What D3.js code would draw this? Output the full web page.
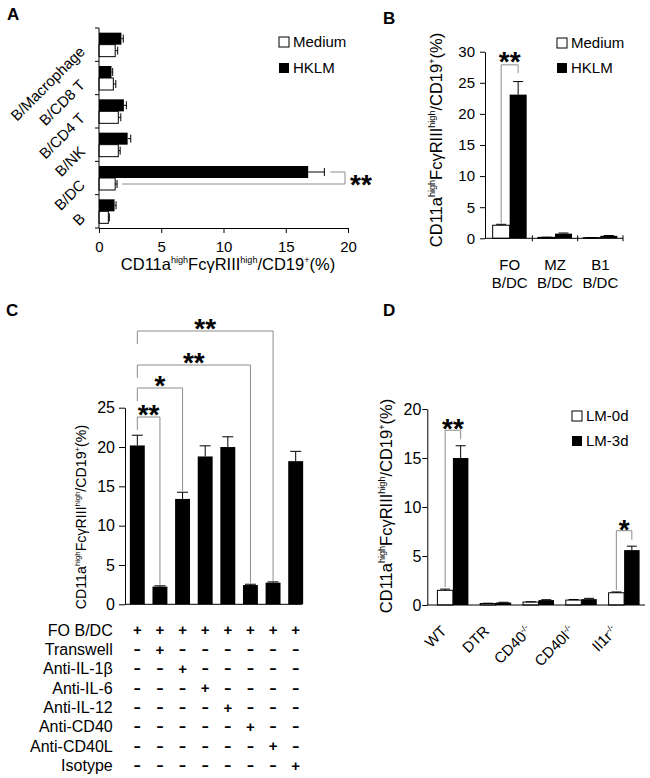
<!DOCTYPE html>
<html>
<head>
<meta charset="utf-8">
<script src="https://cdn.jsdelivr.net/npm/d3@7"></script>
<style>
  body { margin: 0; background: #fff; }
  svg text { font-family: Arial, "Liberation Sans", sans-serif; fill: #000; }
</style>
</head>
<body>
<svg id="fig" width="650" height="778"></svg>
<script>
// ---- panel A ----
const catsA = ['B/Macrophage', 'B/CD8 T', 'B/CD4 T', 'B/NK', 'B/DC', 'B'];
const mediumA = [1.3, 1.15, 1.55, 1.55, 1.3, 0.75];
const mediumErrA = [0.2, 0.2, 0.2, 0.15, 0.15, 0.08];
const hklmA = [1.8, 1.0, 2.0, 2.3, 16.8, 1.25];
const hklmErrA = [0.15, 0.1, 0.2, 0.25, 1.3, 0.12];
const ticksA = [0, 5, 10, 15, 20];

// ---- panel B ----
const catsB = ['FO', 'MZ', 'B1'];
const subB = 'B/DC';
const mediumB = [2.1, 0.15, 0.1];
const mediumErrB = [0.15, 0.03, 0.03];
const hklmB = [23.1, 0.75, 0.4];
const hklmErrB = [2.1, 0.1, 0.05];
const ticksB = [0, 5, 10, 15, 20, 25, 30];

// ---- panel C ----
const valuesC = [20.2, 2.25, 13.4, 18.8, 20.0, 2.45, 2.75, 18.2];
const errC = [1.3, 0.1, 0.85, 1.35, 1.3, 0.1, 0.1, 1.25];
const ticksC = [0, 5, 10, 15, 20, 25];
const rowsC = ['FO B/DC', 'Transwell', 'Anti-IL-1β', 'Anti-IL-6', 'Anti-IL-12', 'Anti-CD40', 'Anti-CD40L', 'Isotype'];
const signsC = ['++++++++', '-+------', '--+-----', '---+----', '----+---', '-----+--', '------+-', '-------+'];
const sigC = [[0, 1, '**'], [0, 2, '*'], [0, 5, '**'], [0, 6, '**']];

// ---- panel D ----
const catsD = ['WT', 'DTR', 'CD40', 'CD40l', 'Il1r'];
const supD = ['', '', '-/-', '-/-', '-/-'];
const lm0d = [1.5, 0.15, 0.3, 0.5, 1.25];
const lm0dErr = [0.12, 0.03, 0.03, 0.06, 0.08];
const lm3d = [15.0, 0.25, 0.5, 0.6, 5.6];
const lm3dErr = [1.25, 0.03, 0.04, 0.08, 0.4];
const ticksD = [0, 5, 10, 15, 20];
const sigD = [[0, '**'], [4, '*']];

const titleParts = [['CD11a', 0], ['high', 1], ['FcγRIII', 0], ['high', 1], ['/CD19', 0], ['+', 1], ['(%)', 0]];

const svg = d3.select('#fig');
const GRAY = '#8c8c8c';

function letter(t, x, y) {
  svg.append('text').attr('x', x).attr('y', y).attr('font-size', 17).attr('font-weight', 'bold').text(t);
}

function axisTitle(x, y, size, rot) {
  const t = svg.append('text')
    .attr('text-anchor', 'middle')
    .attr('font-size', size)
    .attr('transform', `translate(${x},${y}) rotate(${rot})`);
  let up = false;
  const shift = size * 0.4;
  titleParts.forEach(([s, sup]) => {
    const ts = t.append('tspan').text(s);
    if (sup) {
      ts.attr('font-size', size * 0.55);
      if (!up) { ts.attr('dy', -shift); up = true; }
    } else if (up) {
      ts.attr('dy', shift);
      up = false;
    }
  });
}

function stars(x, cy, s) {
  // asterisk ink sits about 0.57em above baseline
  svg.append('text').attr('x', x).attr('y', cy + 16)
    .attr('text-anchor', 'middle').attr('font-size', 28).attr('font-weight', 'bold').text(s);
}

function path(d, color) {
  svg.append('path').attr('d', d).attr('fill', 'none').attr('stroke', color || '#000').attr('stroke-width', 1);
}

function styleAxis(g, size) {
  g.attr('font-size', size).attr('font-family', null);
  g.selectAll('text').attr('fill', '#000');
  g.selectAll('line,path').attr('stroke', '#000');
}

function legend(x, y0, y1, labels) {
  svg.append('rect').attr('x', x).attr('y', y0).attr('width', 10).attr('height', 10)
    .attr('fill', '#fff').attr('stroke', '#000');
  svg.append('rect').attr('x', x).attr('y', y1).attr('width', 10).attr('height', 10).attr('fill', '#000');
  svg.append('text').attr('x', x + 14).attr('y', y0 + 10).attr('font-size', 15).text(labels[0]);
  svg.append('text').attr('x', x + 14).attr('y', y1 + 10).attr('font-size', 15).text(labels[1]);
}

// =================== A ===================
letter('A', 7, 20);
{
  const x = d3.scaleLinear().domain([0, 20]).range([99, 348]);
  const y = d3.scaleBand().domain(catsA).range([28, 228]).paddingInner(0.28).paddingOuter(0.14);
  const h = y.bandwidth() / 2;
  const g = svg.append('g');

  g.selectAll('rect.hklm').data(catsA).join('rect')
    .attr('x', x(0)).attr('y', d => y(d))
    .attr('width', (d, i) => x(hklmA[i]) - x(0)).attr('height', h)
    .attr('fill', '#000');
  g.selectAll('rect.med').data(catsA).join('rect')
    .attr('x', x(0)).attr('y', d => y(d) + h)
    .attr('width', (d, i) => x(mediumA[i]) - x(0)).attr('height', h)
    .attr('fill', '#fff').attr('stroke', '#000');

  catsA.forEach((c, i) => {
    const cy1 = y(c) + h / 2, cy2 = y(c) + 1.5 * h;
    const e1 = x(hklmA[i] + hklmErrA[i]), e2 = x(mediumA[i] + mediumErrA[i]);
    path(`M${x(hklmA[i])},${cy1}H${e1}M${e1},${cy1 - 4}V${cy1 + 4}`);
    path(`M${x(mediumA[i])},${cy2}H${e2}M${e2},${cy2 - 4}V${cy2 + 4}`);
  });

  // category axis
  path(`M${x(0)},28V228`);
  d3.range(catsA.length + 1).forEach(k => path(`M${x(0) - 4},${28 + k * y.step()}H${x(0)}`));
  g.selectAll('text.cat').data(catsA).join('text')
    .attr('text-anchor', 'end').attr('font-size', 15)
    .attr('transform', d => `translate(86,${y(d) + y.bandwidth() / 2 + 8}) rotate(-45)`)
    .text(d => d);

  svg.append('g').attr('transform', 'translate(0,228)')
    .call(d3.axisBottom(x).tickValues(ticksA).tickSize(5).tickPadding(8).tickSizeOuter(0))
    .call(gg => styleAxis(gg, 15));

  axisTitle(228, 270, 16.5, 0);
  legend(279, 37, 63, ['Medium', 'HKLM']);

  // significance B/DC
  const i = 4, c = catsA[i];
  const yb = y(c) + h / 2, yw = y(c) + 1.5 * h;
  path(`M${x(hklmA[i] + hklmErrA[i]) + 6},${yb}H345V${yw}H${x(mediumA[i] + mediumErrA[i]) + 5}`, GRAY);
  stars(361, 178, '**');
}

// =================== B ===================
letter('B', 383, 24);
{
  const y = d3.scaleLinear().domain([0, 30]).range([238.3, 51.7]);
  const x = d3.scaleBand().domain(catsB).range([487, 623]);
  const bw = 17;
  const g = svg.append('g');
  const cx = d => x(d) + x.bandwidth() / 2;

  g.selectAll('rect.med').data(catsB).join('rect')
    .attr('x', d => cx(d) - bw).attr('y', (d, i) => y(mediumB[i]))
    .attr('width', bw).attr('height', (d, i) => y(0) - y(mediumB[i]))
    .attr('fill', '#fff').attr('stroke', '#000');
  g.selectAll('rect.hklm').data(catsB).join('rect')
    .attr('x', d => cx(d)).attr('y', (d, i) => y(hklmB[i]))
    .attr('width', bw).attr('height', (d, i) => y(0) - y(hklmB[i]))
    .attr('fill', '#000');
  catsB.forEach((c, i) => {
    const m = cx(c) - bw / 2, k = cx(c) + bw / 2;
    const t1 = y(mediumB[i] + mediumErrB[i]), t2 = y(hklmB[i] + hklmErrB[i]);
    path(`M${m},${y(mediumB[i])}V${t1}M${m - 5},${t1}H${m + 5}`);
    path(`M${k},${y(hklmB[i])}V${t2}M${k - 5},${t2}H${k + 5}`);
  });

  svg.append('g').attr('transform', 'translate(485,0)')
    .call(d3.axisLeft(y).tickValues(ticksB).tickSize(5).tickPadding(5).tickSizeOuter(0))
    .call(gg => styleAxis(gg, 15));
  path(`M485,${y(0)}H623`);
  [1, 2, 3].forEach(k => path(`M${487 + k * x.step()},${y(0) - 3}V${y(0) + 3}`));

  g.selectAll('text.cat').data(catsB).join('text')
    .attr('x', d => cx(d)).attr('y', 270).attr('text-anchor', 'middle').attr('font-size', 15).text(d => d);
  g.selectAll('text.sub').data(catsB).join('text')
    .attr('x', d => cx(d)).attr('y', 288).attr('text-anchor', 'middle').attr('font-size', 15).text(subB);

  axisTitle(442, 140, 16.5, -90);
  legend(557, 38, 63, ['Medium', 'HKLM']);

  const lx = cx('FO') - bw / 2, rx = cx('FO') + bw / 2;
  const top = y(hklmB[0] + hklmErrB[0]) - 16.7;
  path(`M${lx},${y(mediumB[0] + mediumErrB[0]) - 1}V${top}H${rx}V${top + 8.3}`, GRAY);
  stars((lx + rx) / 2, 55, '**');
}

// =================== C ===================
letter('C', 6, 316);
{
  const y = d3.scaleLinear().domain([0, 25]).range([604.3, 407.7]);
  const x = d3.scaleBand().domain(d3.range(valuesC.length)).range([126, 307]).paddingInner(0.34).paddingOuter(0.17);
  const cx = i => x(i) + x.bandwidth() / 2;
  const g = svg.append('g');

  g.selectAll('rect').data(valuesC).join('rect')
    .attr('x', (d, i) => x(i)).attr('y', d => y(d))
    .attr('width', x.bandwidth()).attr('height', d => y(0) - y(d))
    .attr('fill', '#000');
  valuesC.forEach((v, i) => {
    const t = y(v + errC[i]);
    path(`M${cx(i)},${y(v)}V${t}M${cx(i) - 5.5},${t}H${cx(i) + 5.5}`);
  });

  svg.append('g').attr('transform', 'translate(125,0)')
    .call(d3.axisLeft(y).tickValues(ticksC).tickSize(6).tickPadding(4).tickSizeOuter(0))
    .call(gg => styleAxis(gg, 16));
  path(`M125,${y(0)}H302`);

  axisTitle(86, 517, 14.2, -90);

  // condition table
  const rowY = d3.scaleLinear().domain([0, rowsC.length - 1]).range([630, 765.3]);
  g.selectAll('text.row').data(rowsC).join('text')
    .attr('x', 112.7).attr('y', (d, r) => rowY(r)).attr('dy', '0.36em')
    .attr('text-anchor', 'end').attr('font-size', 16).text(d => d);
  signsC.forEach((row, r) => {
    row.split('').forEach((s, i) => {
      const t = g.append('text').attr('text-anchor', 'middle').attr('font-weight', 'bold')
        .attr('font-size', 15).text(s);
      if (s === '+') t.attr('x', cx(i)).attr('y', rowY(r) + 5.2);
      else t.attr('transform', `translate(${cx(i)},${rowY(r) + 4.6}) scale(1.5,1)`);
    });
  });

  // significance brackets (heights are layout)
  const bracketY = [417, 388, 365, 331];
  sigC.forEach(([a, b, s], k) => {
    const top = bracketY[k];
    path(`M${cx(a)},${top + 13}V${top}H${cx(b)}V${y(valuesC[b] + errC[b]) - 1}`, GRAY);
    stars((cx(a) + cx(b)) / 2, top - 9, s);
  });
}

// =================== D ===================
letter('D', 383, 316);
{
  const y = d3.scaleLinear().domain([0, 20]).range([605, 409]);
  const x = d3.scaleBand().domain(catsD).range([431.5, 645.5]);
  const bw = 15.5;
  const cx = d => x(d) + x.bandwidth() / 2;
  const g = svg.append('g');

  g.selectAll('rect.d0').data(catsD).join('rect')
    .attr('x', d => cx(d) - bw).attr('y', (d, i) => y(lm0d[i]))
    .attr('width', bw).attr('height', (d, i) => y(0) - y(lm0d[i]))
    .attr('fill', '#fff').attr('stroke', '#000');
  g.selectAll('rect.d3').data(catsD).join('rect')
    .attr('x', d => cx(d)).attr('y', (d, i) => y(lm3d[i]))
    .attr('width', bw).attr('height', (d, i) => y(0) - y(lm3d[i]))
    .attr('fill', '#000');
  catsD.forEach((c, i) => {
    const m = cx(c) - bw / 2, k = cx(c) + bw / 2;
    const t1 = y(lm0d[i] + lm0dErr[i]), t2 = y(lm3d[i] + lm3dErr[i]);
    path(`M${m},${y(lm0d[i])}V${t1}M${m - 5},${t1}H${m + 5}`);
    path(`M${k},${y(lm3d[i])}V${t2}M${k - 5},${t2}H${k + 5}`);
  });

  svg.append('g').attr('transform', 'translate(427.3,0)')
    .call(d3.axisLeft(y).tickValues(ticksD).tickSize(5).tickPadding(1).tickSizeOuter(0))
    .call(gg => styleAxis(gg, 16));
  path(`M427.3,${y(0)}H645`);

  const lab = g.selectAll('text.cat').data(catsD).join('text')
    .attr('text-anchor', 'end').attr('font-size', 15)
    .attr('transform', d => `translate(${cx(d) - 5.5},632) rotate(-45)`);
  lab.append('tspan').text(d => d);
  lab.append('tspan').attr('font-size', 8.5).attr('dy', -6).text((d, i) => supD[i]);

  axisTitle(392, 506, 16.5, -90);
  legend(572, 411, 436, ['LM-0d', 'LM-3d']);

  sigD.forEach(([i, s]) => {
    const c = catsD[i];
    const lx = cx(c) - bw / 2, rx = cx(c) + bw / 2;
    const rEnd = y(lm3d[i] + lm3dErr[i]) - 6.5;
    const top = rEnd - 9;
    path(`M${lx},${y(lm0d[i] + lm0dErr[i]) - 2}V${top}H${rx}V${rEnd}`, GRAY);
    stars((lx + rx) / 2, top - 8, s);
  });
}
</script>
</body>
</html>
